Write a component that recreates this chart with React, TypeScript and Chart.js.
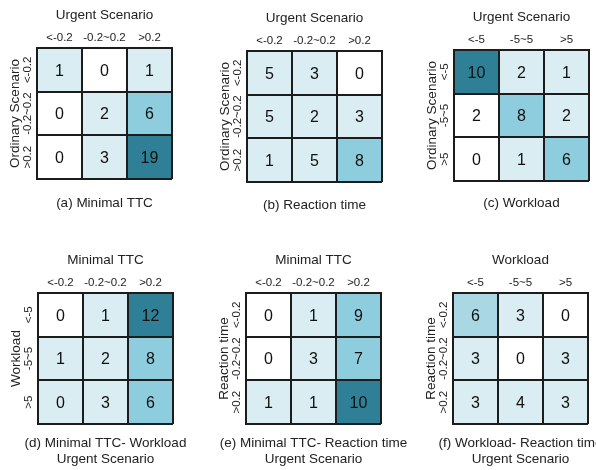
import React, { useEffect, useRef } from 'react';
import { Chart, registerables } from 'chart.js';

Chart.register(...registerables);

// ---- data ----
const ttcBins = ['<-0.2', '-0.2~0.2', '>0.2'];
const workloadBins = ['<-5', '-5~5', '>5'];

const valuesA = [[1, 0, 1], [0, 2, 6], [0, 3, 19]];
const valuesB = [[5, 3, 0], [5, 2, 3], [1, 5, 8]];
const valuesC = [[10, 2, 1], [2, 8, 2], [0, 1, 6]];
const valuesD = [[0, 1, 12], [1, 2, 8], [0, 3, 6]];
const valuesE = [[0, 1, 9], [0, 3, 7], [1, 1, 10]];
const valuesF = [[6, 3, 0], [3, 0, 3], [3, 4, 3]];

// shade class of each cell (index into the palette)
const shadesA = [[1, 0, 1], [0, 1, 2], [0, 1, 3]];
const shadesB = [[1, 1, 0], [1, 1, 1], [1, 1, 2]];
const shadesC = [[3, 1, 1], [0, 2, 1], [0, 1, 2]];
const shadesD = [[0, 1, 3], [1, 1, 2], [1, 1, 2]];
const shadesE = [[0, 1, 2], [0, 1, 2], [1, 1, 3]];
const shadesF = [[4, 1, 0], [1, 0, 1], [1, 1, 1]];

const xTitles = ['Urgent Scenario', 'Urgent Scenario', 'Urgent Scenario', 'Minimal TTC', 'Minimal TTC', 'Workload'];
const yTitles = ['Ordinary Scenario', 'Ordinary Scenario', 'Ordinary Scenario', 'Workload', 'Reaction time', 'Reaction time'];
const captions = [
  ['(a) Minimal TTC'],
  ['(b) Reaction time'],
  ['(c) Workload'],
  ['(d) Minimal TTC- Workload', 'Urgent Scenario'],
  ['(e) Minimal TTC- Reaction time', 'Urgent Scenario'],
  ['(f) Workload- Reaction time', 'Urgent Scenario'],
];

// ---- styles ----
const PALETTE = ['#ffffff', '#daedf2', '#8ecddd', '#2f8096', '#a9d8e4'];
const LINE = '#1c1c1c';
const TEXT = '#222222';
const FAMILY = '"Liberation Sans", Arial, Helvetica, sans-serif';

const panels = [
  { xLabels: ttcBins, yLabels: ttcBins, values: valuesA, shades: shadesA },
  { xLabels: ttcBins, yLabels: ttcBins, values: valuesB, shades: shadesB },
  { xLabels: workloadBins, yLabels: workloadBins, values: valuesC, shades: shadesC },
  { xLabels: ttcBins, yLabels: workloadBins, values: valuesD, shades: shadesD },
  { xLabels: ttcBins, yLabels: ttcBins, values: valuesE, shades: shadesE },
  { xLabels: workloadBins, yLabels: ttcBins, values: valuesF, shades: shadesF },
];

// layout of each panel canvas
const boxes = [
  { left: -8, top: 0, height: 230, padBottom: 51, capOffset: 24 },
  { left: 202, top: 3, height: 230, padBottom: 51, capOffset: 23.5 },
  { left: 409, top: 2, height: 230, padBottom: 51, capOffset: 22.5 },
  { left: -7, top: 245, height: 225, padBottom: 46, capOffset: 19.5 },
  { left: 201, top: 245, height: 225, padBottom: 46, capOffset: 19.5 },
  { left: 408, top: 245, height: 225, padBottom: 46, capOffset: 19.5 },
];
const CANVAS_W = 225;

function HeatPanel({ idx }: { idx: number }) {
  const ref = useRef<HTMLCanvasElement>(null);
  const spec = panels[idx];
  const box = boxes[idx];

  useEffect(() => {
    if (!ref.current) return;
    const rows = spec.values.length;
    const datasets = spec.values.map((row, r) => ({
      label: spec.yLabels[r],
      data: row.map(() => 1),
      backgroundColor: row.map((_, c) => PALETTE[spec.shades[r][c]]),
      borderWidth: 0,
      barPercentage: 1,
      categoryPercentage: 1,
    }));

    const cellText = {
      id: 'cellText',
      afterDatasetsDraw(chart: any) {
        const ctx = chart.ctx;
        ctx.save();
        ctx.font = `16px ${FAMILY}`;
        ctx.fillStyle = '#111111';
        ctx.textAlign = 'center';
        ctx.textBaseline = 'middle';
        spec.values.forEach((row, r) => {
          const meta = chart.getDatasetMeta(r);
          row.forEach((v, c) => {
            const el: any = meta.data[c];
            const cy = (el.y + el.base) / 2;
            ctx.fillText(String(v), el.x, cy + 1);
          });
        });
        ctx.restore();
      },
    };

    const yTickLabels = {
      id: 'yTickLabels',
      afterDraw(chart: any) {
        const ctx = chart.ctx;
        const ys = chart.scales.y;
        ctx.save();
        ctx.font = `11.5px ${FAMILY}`;
        ctx.fillStyle = TEXT;
        ctx.textAlign = 'center';
        ctx.textBaseline = 'middle';
        spec.yLabels.forEach((lab, r) => {
          const y = ys.getPixelForValue(r + 0.5);
          ctx.save();
          ctx.translate(chart.chartArea.left - 9, y);
          ctx.rotate(-Math.PI / 2);
          ctx.fillText(lab, 0, 0);
          ctx.restore();
        });
        ctx.restore();
      },
    };

    const caption = {
      id: 'caption',
      afterDraw(chart: any) {
        const ctx = chart.ctx;
        const { left, right, bottom } = chart.chartArea;
        ctx.save();
        ctx.font = `13.5px ${FAMILY}`;
        ctx.fillStyle = TEXT;
        ctx.textAlign = 'center';
        ctx.textBaseline = 'middle';
        captions[idx].forEach((line, i) => {
          ctx.fillText(line, (left + right) / 2, bottom + box.capOffset + i * 16);
        });
        ctx.restore();
      },
    };

    const chart = new Chart(ref.current, {
      type: 'bar',
      data: { labels: spec.xLabels, datasets },
      options: {
        responsive: false,
        animation: false,
        layout: { padding: { left: 13, right: 45, top: 7, bottom: box.padBottom } },
        plugins: {
          legend: { display: false },
          tooltip: { enabled: false },
          title: { display: false },
        },
        scales: {
          x: {
            type: 'category',
            position: 'top',
            stacked: true,
            offset: true,
            grid: { offset: true, color: LINE, lineWidth: 2, drawTicks: false, z: 1 },
            border: { display: true, color: LINE, width: 2, z: 2 },
            ticks: {
              color: TEXT,
              font: { family: FAMILY, size: 11.5, lineHeight: '13px' },
              padding: 4,
              maxRotation: 0,
              autoSkip: false,
            },
            title: {
              display: true,
              text: xTitles[idx],
              color: TEXT,
              font: { family: FAMILY, size: 13.5, lineHeight: '16px' },
              padding: { top: 0, bottom: 4 },
            },
          },
          y: {
            type: 'linear',
            min: 0,
            max: rows,
            reverse: true,
            stacked: true,
            grid: { color: LINE, lineWidth: 2, drawTicks: false, z: 1 },
            border: { display: true, color: LINE, width: 2, z: 2 },
            ticks: { display: false, stepSize: 1 },
            title: {
              display: true,
              text: yTitles[idx],
              color: TEXT,
              font: { family: FAMILY, size: 13.5, lineHeight: '16px' },
              padding: { top: 2, bottom: 14 },
            },
          },
        },
      } as any,
      plugins: [cellText, yTickLabels, caption],
    });
    return () => chart.destroy();
  }, []);

  return (
    <canvas
      ref={ref}
      width={CANVAS_W}
      height={box.height}
      style={{ position: 'absolute', left: box.left, top: box.top, width: CANVAS_W, height: box.height, display: 'block' }}
    />
  );
}

export default function App() {
  return (
    <div
      style={{
        position: 'fixed',
        left: 0,
        top: 0,
        width: 596,
        height: 470,
        overflow: 'hidden',
        background: '#ffffff',
      }}
    >
      {panels.map((_, i) => (
        <HeatPanel key={i} idx={i} />
      ))}
    </div>
  );
}
